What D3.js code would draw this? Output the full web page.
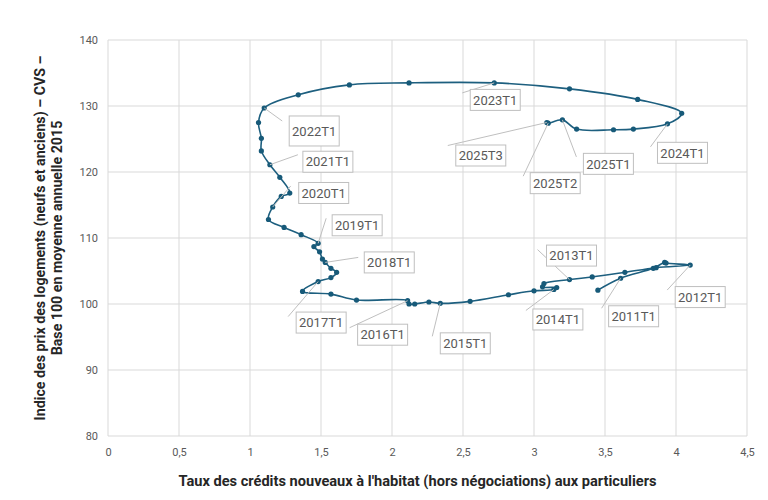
<!DOCTYPE html>
<html><head><meta charset="utf-8">
<script src="https://cdn.jsdelivr.net/npm/d3@7"></script>
<style>
body{margin:0;background:#fff;}
svg{display:block;font-family:Roboto, "Open Sans", sans-serif;}
</style></head>
<body>
<svg id="chart" width="768" height="500"></svg>
<script>
// ---- data ----
const periods = ["2010T4",
 "2011T1","2011T2","2011T3","2011T4","2012T1","2012T2","2012T3","2012T4",
 "2013T1","2013T2","2013T3","2013T4","2014T1","2014T2","2014T3","2014T4",
 "2015T1","2015T2","2015T3","2015T4","2016T1","2016T2","2016T3","2016T4",
 "2017T1","2017T2","2017T3","2017T4","2018T1","2018T2","2018T3","2018T4",
 "2019T1","2019T2","2019T3","2019T4","2020T1","2020T2","2020T3","2020T4",
 "2021T1","2021T2","2021T3","2021T4","2022T1","2022T2","2022T3","2022T4",
 "2023T1","2023T2","2023T3","2023T4","2024T1","2024T2","2024T3","2024T4",
 "2025T1","2025T2","2025T3"];
const creditRate = [3.45,
 3.61,3.84,3.92,3.93,4.10,3.86,3.64,3.41,
 3.25,3.07,3.06,3.16,3.14,3.00,2.82,2.55,
 2.34,2.26,2.16,2.12,2.11,1.75,1.57,1.37,
 1.48,1.57,1.61,1.57,1.53,1.51,1.49,1.45,
 1.48,1.36,1.24,1.13,1.16,1.22,1.28,1.21,
 1.14,1.08,1.08,1.06,1.10,1.34,1.70,2.12,
 2.72,3.25,3.73,4.04,3.94,3.70,3.56,3.30,
 3.20,3.10,3.09];
const priceIndex = [102.1,
 103.9,105.4,106.3,106.2,105.9,105.5,104.8,104.1,
 103.7,103.1,102.6,102.5,102.2,102.0,101.4,100.4,
 100.1,100.3,100.0,100.0,100.5,100.6,101.5,101.9,
 103.4,104.0,104.8,105.4,106.3,106.8,107.9,108.7,
 109.2,110.5,111.6,112.8,114.7,116.3,116.8,119.2,
 121.1,123.2,125.1,127.5,129.7,131.7,133.2,133.5,
 133.5,132.6,131.0,128.9,127.3,126.5,126.4,126.5,
 127.9,127.4,127.5];
const xTicks = [0,0.5,1,1.5,2,2.5,3,3.5,4,4.5];
const yTicks = [80,90,100,110,120,130,140];
const labelledPeriods = ["2011T1","2012T1","2013T1","2014T1","2015T1","2016T1","2017T1",
 "2018T1","2019T1","2020T1","2021T1","2022T1","2023T1","2024T1","2025T1","2025T2","2025T3"];
const xTitle = "Taux des crédits nouveaux à l'habitat (hors négociations) aux particuliers";
const yTitle = ["Indice des prix des logements (neufs et anciens) – CVS –","Base 100 en moyenne annuelle 2015"];

// ---- label placement (pixel offsets from the point: label centre, leader start, box height) ----
const labelLayout = {
 "2011T1":{dx:13,dy:38,lx:-19,ly:30},
 "2012T1":{dx:10,dy:32,lx:-23,ly:25},
 "2013T1":{dx:2,dy:-24,lx:-32,ly:-30},
 "2014T1":{dx:4,dy:30,lx:-28,ly:21},
 "2015T1":{dx:25,dy:40,lx:-8,ly:33},
 "2016T1":{dx:-25,dy:34,lx:-58,ly:27},
 "2017T1":{dx:3,dy:41,lx:-30,ly:35},
 "2018T1":{dx:64,dy:0,lx:33,ly:-5},
 "2019T1":{dx:39,dy:-18,lx:8,ly:-25},
 "2020T1":{dx:51,dy:-14,lx:18,ly:-21},
 "2021T1":{dx:58,dy:-3,lx:28,ly:-10},
 "2022T1":{dx:50,dy:23,lx:18,ly:13,h:30},
 "2023T1":{dx:1,dy:17,lx:-32,ly:10},
 "2024T1":{dx:15,dy:29,lx:-17,ly:23},
 "2025T1":{dx:46,dy:44,lx:14,ly:37},
 "2025T2":{dx:7,dy:60,lx:-25,ly:53},
 "2025T3":{dx:-66,dy:33,lx:-99,ly:23}
};

const data = periods.map((p,i)=>({p, x:creditRate[i], y:priceIndex[i]}));

const svg = d3.select("#chart");
const m = {l:108, r:21, t:40, b:64};
const W = 768, H = 500;
const x = d3.scaleLinear().domain([0,4.5]).range([m.l, W-m.r]);
const y = d3.scaleLinear().domain([80,140]).range([H-m.b, m.t]);

// gridlines
const g = svg.append("g");
g.selectAll(".vg").data(xTicks).join("line")
 .attr("x1",d=>x(d)).attr("x2",d=>x(d)).attr("y1",y(80)).attr("y2",y(140))
 .attr("stroke","#d9d9d9").attr("stroke-width",1);
g.selectAll(".hg").data(yTicks).join("line")
 .attr("x1",x(0)).attr("x2",x(4.5)).attr("y1",d=>y(d)).attr("y2",d=>y(d))
 .attr("stroke","#d9d9d9").attr("stroke-width",1);

// axes
const fmt = d => String(d).replace(".", ",");
const xAxis = svg.append("g").attr("transform",`translate(0,${y(80)})`)
 .call(d3.axisBottom(x).tickValues(xTicks).tickFormat(fmt).tickSize(0).tickPadding(12));
const yAxis = svg.append("g").attr("transform",`translate(${x(0)},0)`)
 .call(d3.axisLeft(y).tickValues(yTicks).tickSize(0).tickPadding(10));
[xAxis,yAxis].forEach(a=>{
 a.select(".domain").remove();
 a.selectAll("text").attr("fill","#595959").style("font-size","11px").style("font-family","Roboto, sans-serif");
});

// titles
svg.append("text").attr("x",(x(0)+x(4.5))/2 - 10).attr("y",486)
 .attr("text-anchor","middle").attr("fill","#262626")
 .style("font-size","14.6px").style("font-weight","bold").text(xTitle);
const yt = svg.append("text").attr("transform",`translate(45,${(y(80)+y(140))/2}) rotate(-90)`)
 .attr("text-anchor","middle").attr("fill","#262626")
 .style("font-size","14.2px").style("font-weight","bold");
yTitle.forEach((t,i)=> yt.append("tspan").attr("x",0).attr("dy", i===0? 0 : 17).text(t));

// line
const line = d3.line().x(d=>x(d.x)).y(d=>y(d.y)).curve(d3.curveCatmullRom.alpha(0.5));
svg.append("path").datum(data).attr("d",line)
 .attr("fill","none").attr("stroke","#1d5f7f").attr("stroke-width",1.6);

// markers
svg.selectAll(".pt").data(data).join("circle")
 .attr("cx",d=>x(d.x)).attr("cy",d=>y(d.y)).attr("r",2.6)
 .attr("fill","#175a79");

// labels
const lab = data.filter(d=>labelledPeriods.includes(d.p));
const lg = svg.append("g");
lab.forEach(d=>{
 const L = labelLayout[d.p];
 const px = x(d.x), py = y(d.y);
 lg.append("line").attr("x1",px+L.lx).attr("y1",py+L.ly).attr("x2",px).attr("y2",py)
  .attr("stroke","#bfbfbf").attr("stroke-width",1);
});
lab.forEach(d=>{
 const L = labelLayout[d.p];
 const px = x(d.x), py = y(d.y);
 const cx = px+L.dx, cy = py+L.dy, bw = 50, bh = L.h || 21;
 lg.append("rect").attr("x",cx-bw/2).attr("y",cy-bh/2).attr("width",bw).attr("height",bh)
  .attr("fill","#fff").attr("stroke","#bfbfbf").attr("stroke-width",1);
 lg.append("text").attr("x",cx).attr("y",cy).attr("dy","0.36em").attr("text-anchor","middle")
  .attr("fill","#595959").style("font-size","13px").text(d.p);
});
</script>
</body></html>
